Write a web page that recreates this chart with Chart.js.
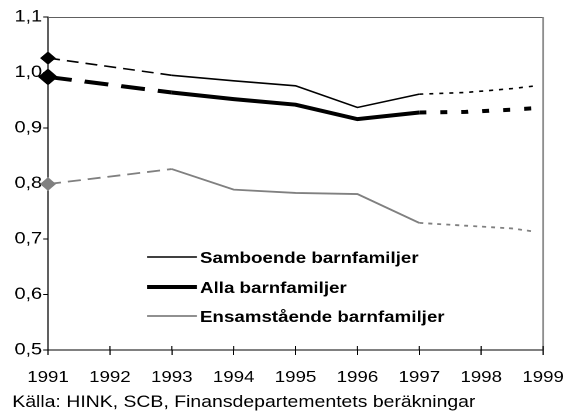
<!DOCTYPE html>
<html>
<head>
<meta charset="utf-8">
<script src="https://cdn.jsdelivr.net/npm/chart.js@4/dist/chart.umd.min.js"></script>
<style>
  html, body { margin: 0; padding: 0; background: #fff; overflow: hidden; }
  #c { display: block; }
</style>
</head>
<body>
<canvas id="c" width="487" height="414"></canvas>
<script>
const years = [1991, 1993, 1994, 1995, 1996, 1997, 1997.75, 1998.5, 1998.88];
const samboende = [1.026, 0.995, 0.985, 0.976, 0.937, 0.961, 0.964, 0.971, 0.976];
const alla = [0.992, 0.964, 0.952, 0.942, 0.916, 0.928, 0.929, 0.933, 0.936];
const ensam = [0.799, 0.826, 0.789, 0.783, 0.781, 0.729, 0.724, 0.719, 0.713];
const seriesLabels = ['Samboende barnfamiljer', 'Alla barnfamiljer', 'Ensamstående barnfamiljer'];
const yTicks = [0.5, 0.6, 0.7, 0.8, 0.9, 1.0, 1.1];
const xTicks = [1991, 1992, 1993, 1994, 1995, 1996, 1997, 1998, 1999];
const sourceNote = 'Källa: HINK, SCB, Finansdepartementets beräkningar';

const FONT = '"Liberation Sans", Arial, sans-serif';
const SX = 570 / 487; // horizontal stretch of the drawing

function pts(vals) { return years.map((x, i) => ({ x: x, y: vals[i] })); }
function d(arr) { return arr.map(v => v / SX); }
function seg(early, late) {
  return {
    borderDash: ctx => ctx.p0.parsed.x < 1993 ? d(early) : (ctx.p0.parsed.x >= 1997 ? d(late) : undefined)
  };
}

const frame = {
  id: 'frame',
  afterDraw(chart) {
    const { ctx, chartArea: a, scales } = chart;
    ctx.save();
    ctx.strokeStyle = '#606060';
    ctx.lineWidth = 1;
    ctx.beginPath(); ctx.moveTo(a.left, a.top + 0.5); ctx.lineTo(a.right, a.top + 0.5); ctx.stroke();
    ctx.strokeStyle = '#808080';
    ctx.lineWidth = 1.4;
    ctx.beginPath(); ctx.moveTo(a.right, a.top); ctx.lineTo(a.right, a.bottom); ctx.stroke();
    // inner half of x ticks
    ctx.strokeStyle = '#000';
    ctx.lineWidth = 1;
    const xs = scales.x;
    xs.ticks.forEach(t => {
      const px = xs.getPixelForValue(t.value);
      ctx.beginPath(); ctx.moveTo(px, a.bottom - 4); ctx.lineTo(px, a.bottom); ctx.stroke();
    });
    // legend
    const rows = [257, 287, 316];
    ctx.font = 'bold 16px ' + FONT;
    ctx.textBaseline = 'middle';
    ctx.fillStyle = '#000';
    chart.data.datasets.forEach((ds, i) => {
      ctx.strokeStyle = ds.borderColor;
      ctx.lineWidth = ds.borderWidth;
      ctx.setLineDash([]);
      ctx.beginPath(); ctx.moveTo(147 / SX, rows[i]); ctx.lineTo(197 / SX, rows[i]); ctx.stroke();
      ctx.fillText(ds.label, 200 / SX, rows[i] + 1.5);
    });
    // source note
    ctx.font = '16.6px ' + FONT;
    ctx.textBaseline = 'alphabetic';
    ctx.fillText(sourceNote, 10.5, 407);
    ctx.restore();
  }
};

const chart = new Chart(document.getElementById('c'), {
  type: 'line',
  data: {
    datasets: [
      { label: seriesLabels[0], data: pts(samboende), borderColor: '#000', backgroundColor: '#000', borderWidth: 1.6,
        clip: false, segment: seg([12, 7], [4, 6]) },
      { label: seriesLabels[1], data: pts(alla), borderColor: '#000', backgroundColor: '#000', borderWidth: 4,
        clip: false, segment: seg([24, 13], [7, 14]) },
      { label: seriesLabels[2], data: pts(ensam), borderColor: '#808080', backgroundColor: '#808080', borderWidth: 1.8,
        clip: false, segment: seg([13, 7], [4, 5]) }
    ]
  },
  options: {
    responsive: false,
    animation: false,
    devicePixelRatio: 2,
    layout: { autoPadding: false, padding: { left: 0, right: 23, top: 17, bottom: 0 } },
    elements: {
      line: { tension: 0, borderCapStyle: 'butt' },
      point: { pointStyle: 'rectRot', radius: ctx => ctx.dataIndex === 0 ? 5.6 : 0, borderWidth: 0, hoverRadius: 0 }
    },
    plugins: { legend: { display: false }, tooltip: { enabled: false } },
    scales: {
      x: {
        type: 'linear', min: 1991, max: 1999,
        afterBuildTicks: s => { s.ticks = xTicks.map(v => ({ value: v })); },
        afterFit: s => { s.height = 64; s.paddingRight = 0; s.paddingLeft = 0; },
        ticks: { callback: v => String(v), color: '#000', font: { family: FONT, size: 16 }, padding: 13, maxRotation: 0, autoSkip: false },
        grid: { drawOnChartArea: false, tickLength: 5, color: '#000' },
        border: { color: '#000', width: 1 }
      },
      y: {
        min: 0.5, max: 1.1,
        afterBuildTicks: s => { s.ticks = yTicks.map(v => ({ value: v })); },
        afterFit: s => { s.width = 41; },
        ticks: { callback: v => v.toFixed(1).replace('.', ','), color: '#000', font: { family: FONT, size: 17 }, padding: 1 },
        grid: { drawOnChartArea: false, tickLength: 4, color: '#000' },
        border: { color: '#000', width: 1 }
      }
    }
  },
  plugins: [frame]
});
const cv = document.getElementById('c');
cv.style.width = '570px';
cv.style.height = '414px';
</script>
</body>
</html>
